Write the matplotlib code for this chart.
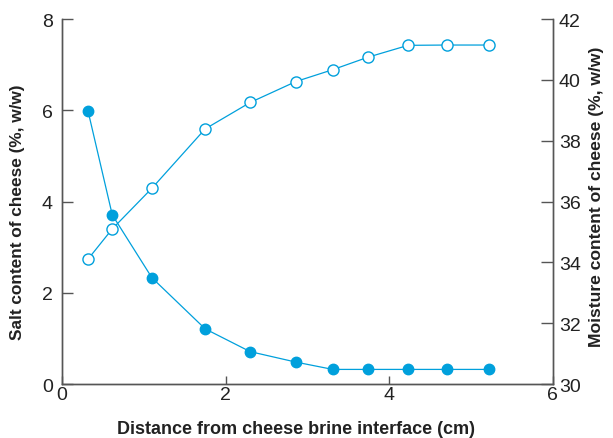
import matplotlib
matplotlib.use("Agg")
import matplotlib.pyplot as plt

plt.rcParams['font.family'] = ['Liberation Sans', 'DejaVu Sans']

distance = [0.32, 0.615, 1.10, 1.75, 2.30, 2.86, 3.31, 3.74, 4.23, 4.70, 5.22]
salt = [5.98, 3.71, 2.33, 1.21, 0.71, 0.48, 0.32, 0.32, 0.32, 0.32, 0.32]
moisture = [34.11, 35.10, 36.44, 38.39, 39.26, 39.95, 40.34, 40.75, 41.14, 41.15, 41.15]

blue = "#00a0dc"
grey = "#555555"
txt = "#222222"

fig = plt.figure(figsize=(6.13, 4.39), dpi=100)
ax = fig.add_axes([0.101, 0.123, 0.801, 0.831])
ax2 = ax.twinx()

ax.plot(distance, salt, color=blue, lw=0.9, marker="o", ms=7.5,
        mfc=blue, mec=blue, zorder=3)
ax2.plot(distance, moisture, color=blue, lw=0.9, marker="o", ms=8,
         mfc="white", mec=blue, mew=1.0, zorder=3)

ax.set_xlim(0, 6)
ax.set_ylim(0, 8)
ax2.set_ylim(30, 42)
ax.set_xticks([0, 2, 4, 6])
ax.set_yticks([0, 2, 4, 6, 8])
ax2.set_yticks([30, 32, 34, 36, 38, 40, 42])

for a in (ax, ax2):
    a.spines["top"].set_visible(False)
    for s in a.spines.values():
        s.set_color(grey)
        s.set_linewidth(1.0)
    a.tick_params(direction="in", width=1.0, color=grey,
                  labelsize=14, labelcolor=txt)

ax.tick_params(axis="x", length=6, pad=1.5)
ax.tick_params(axis="y", length=8, pad=6.5)
ax2.tick_params(axis="y", length=8.5, pad=4.3)

ax.set_xlabel("Distance from cheese brine interface (cm)", fontsize=13,
              fontweight="bold", color=txt, va="center", ha="center")
ax.set_ylabel("Salt content of cheese (%, w/w)", fontsize=12.4,
              fontweight="bold", color=txt, va="center", ha="center")
ax2.set_ylabel("Moisture content of cheese (%, w/w)", fontsize=12.6,
               fontweight="bold", color=txt, va="center", ha="center")
ax.xaxis.set_label_coords(0.477, -0.123)
ax.yaxis.set_label_coords(-0.0896, 0.474)
ax2.yaxis.set_label_coords(1.0896, 0.515)

fig.savefig("out.png", dpi=100)
